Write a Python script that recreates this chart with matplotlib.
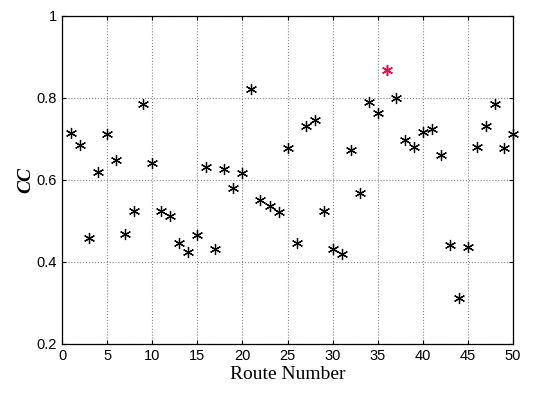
import matplotlib
matplotlib.use("Agg")
import matplotlib.pyplot as plt
import numpy as np

# route number -> CC value
routes = np.arange(1, 51)
cc = [0.714, 0.684, 0.458, 0.619, 0.712, 0.649, 0.469, 0.525, 0.785, 0.641,
      0.523, 0.511, 0.446, 0.424, 0.466, 0.631, 0.431, 0.626, 0.581, 0.616,
      0.821, 0.552, 0.537, 0.521, 0.677, 0.446, 0.731, 0.745, 0.523, 0.432,
      0.420, 0.673, 0.567, 0.790, 0.762, 0.867, 0.800, 0.697, 0.681, 0.718,
      0.724, 0.660, 0.440, 0.311, 0.436, 0.680, 0.732, 0.784, 0.677, 0.712]
best_route = 36

x_ticks = [0, 5, 10, 15, 20, 25, 30, 35, 40, 45, 50]
y_ticks = [0.2, 0.4, 0.6, 0.8, 1.0]
y_ticklabels = ["0.2", "0.4", "0.6", "0.8", "1"]

fig = plt.figure(figsize=(5.4, 3.98), dpi=100)
ax = fig.add_axes([0.115, 0.136, 0.835, 0.824])

asterisk = (6, 2, 0)
others = [i for i, r in enumerate(routes) if r != best_route]
ax.plot(routes[others], np.array(cc)[others], linestyle="none",
        marker=asterisk, markersize=8, markeredgewidth=0.9,
        color="black", clip_on=False, zorder=3)
bi = best_route - 1
ax.plot([routes[bi]], [cc[bi]], linestyle="none", marker=asterisk,
        markersize=8, markeredgewidth=1.1, color="#e0104a", zorder=3)

ax.set_xlim(0, 50)
ax.set_ylim(0.2, 1.0)
ax.set_xticks(x_ticks)
ax.set_yticks(y_ticks)
ax.set_yticklabels(y_ticklabels)
ax.grid(True, color="#888888", linestyle=":", linewidth=0.8)
ax.tick_params(direction="in", top=True, right=True, length=3,
               labelsize=10.5)
for lab in ax.get_xticklabels() + ax.get_yticklabels():
    lab.set_family(["Liberation Sans Narrow", "Liberation Sans", "DejaVu Sans"])
for sp in ax.spines.values():
    sp.set_linewidth(0.9)

ax.set_xlabel("Route Number", family="Liberation Serif", fontsize=14, labelpad=2)
ax.set_ylabel("CC", family="Liberation Serif", fontsize=14,
              style="italic", fontweight="bold", labelpad=2)

fig.savefig("out.png", dpi=100, facecolor="white")
